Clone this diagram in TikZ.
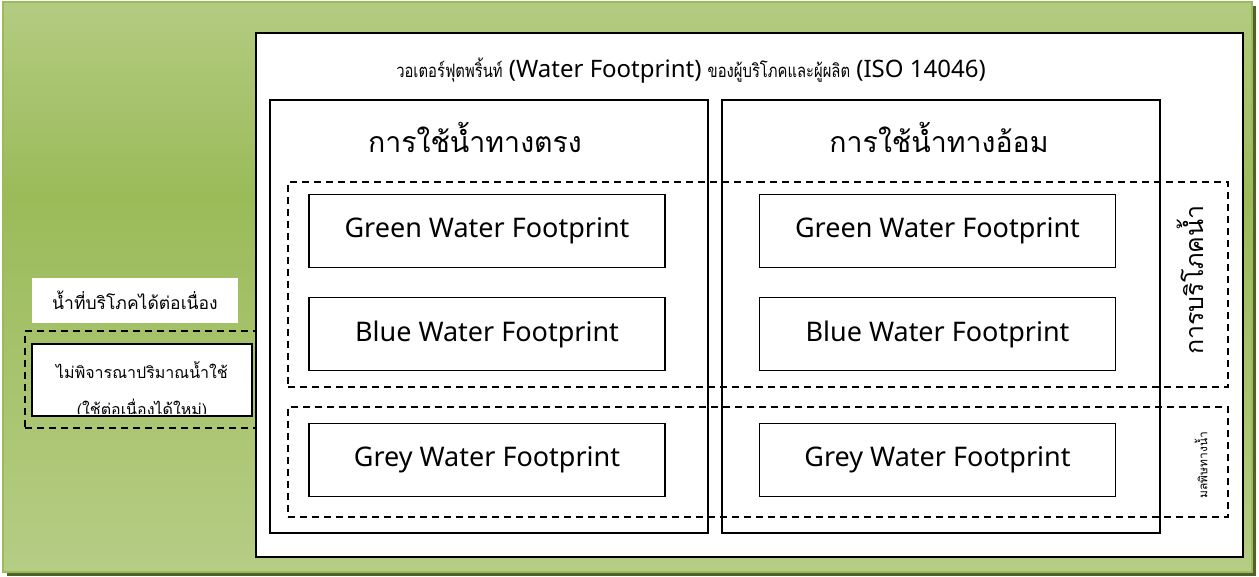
\documentclass[tikz,border=0pt]{standalone}
\usepackage{fontspec}
\setmainfont{Noto Sans}
\newfontfamily\thai[Script=Thai]{Loma}
\newfontfamily\thainarrow[Script=Thai,FakeStretch=0.8]{Loma}
\definecolor{lightg}{RGB}{195,214,155}
\definecolor{darkg}{RGB}{155,187,89}
\definecolor{edgeg}{RGB}{155,187,89}
\definecolor{shadowg}{RGB}{79,98,40}
\pgfdeclareverticalshading{bgshade}{100bp}{color(0bp)=(lightg); color(8bp)=(lightg); color(58bp)=(darkg); color(86bp)=(lightg); color(100bp)=(lightg)}
\tikzset{
  solidbox/.style={draw=black, line width=1.5pt, fill=white, rectangle, inner sep=0pt},
  dashbox/.style={draw=black, line width=1.5pt, dash pattern=on 7pt off 5pt},
  fpbox/.style={solidbox, minimum width=356pt, minimum height=73pt, font=\fontsize{27}{32}\selectfont},
  colbox/.style={draw=black, line width=1.5pt, rectangle, inner sep=0pt, minimum width=438pt, minimum height=433pt},
}
\begin{document}
\begin{tikzpicture}[x=1pt,y=-1pt]
\useasboundingbox (0,0) rectangle (1259,577);
% background frame with its shadow
\fill[shadowg] (7,6) rectangle (1256,576);
\shade[shading=bgshade] (3,2) rectangle (1252,572);
\draw[edgeg, line width=2.5pt] (3,2) rectangle (1252,572);

% main white panel
\node[solidbox, minimum width=987pt, minimum height=524pt] (main) at (749.5,295) {};
\node[font=\fontsize{24}{28}\selectfont] (title) at (691,71)
  {{\thainarrow\fontsize{18.5}{22}\selectfont วอเตอร์ฟุตพริ้นท์} (Water Footprint) {\thainarrow\fontsize{18.5}{22}\selectfont ของผู้บริโภคและผู้ผลิต} (ISO 14046)};

% direct / indirect columns
\node[colbox] (colL) at (489,316.5) {};
\node[colbox] (colR) at (941,316.5) {};
\node[font=\thai\fontsize{28.5}{32}\selectfont] (hdrL) at (475,137) {การใช้น้ำทางตรง};
\node[font=\thai\fontsize{28.5}{32}\selectfont] (hdrR) at (939,137) {การใช้น้ำทางอ้อม};

% consumption and pollution groups
\node[dashbox, rectangle, minimum width=940pt, minimum height=205pt, inner sep=0pt] (grpC) at (758,284.5) {};
\node[dashbox, rectangle, minimum width=940pt, minimum height=110pt, inner sep=0pt] (grpP) at (758,462) {};
\node[rotate=90, font=\thai\fontsize{25}{28}\selectfont] (lblC) at (1190,280) {การบริโภคน้ำ};
\node[rotate=90, font=\thai\fontsize{12}{14}\selectfont] (lblP) at (1201,465) {มลพิษทางน้ำ};

% footprint boxes
\node[fpbox] (greenL) at (487,231) {Green Water Footprint};
\node[fpbox] (blueL)  at (487,334) {Blue Water Footprint};
\node[fpbox] (greyL)  at (487,460) {Grey Water Footprint};
\node[fpbox] (greenR) at (937.5,231) {Green Water Footprint};
\node[fpbox] (blueR)  at (937.5,334) {Blue Water Footprint};
\node[fpbox] (greyR)  at (937.5,460) {Grey Water Footprint};

% continuously consumable water
\node[fill=white, rectangle, inner sep=0pt, minimum width=206pt, minimum height=45pt, font=\thai\fontsize{17.5}{20}\selectfont] (cont) at (135,300.5) {น้ำที่บริโภคได้ต่อเนื่อง};
\node[dashbox, rectangle, minimum width=231pt, minimum height=97pt, inner sep=0pt] (grpL) at (140.5,379.5) {};
\node[solidbox, minimum width=220pt, minimum height=72pt] (reuse) at (142,380) {};
\begin{scope}
  \clip (33,345) rectangle (251,413);
  \node[font=\thai\fontsize{16}{19}\selectfont] (reuse1) at (142,370) {ไม่พิจารณาปริมาณน้ำใช้};
  \node[font=\thai\fontsize{16}{19}\selectfont] (reuse2) at (142,409) {(ใช้ต่อเนื่องได้ใหม่)};
\end{scope}
\end{tikzpicture}
\end{document}
